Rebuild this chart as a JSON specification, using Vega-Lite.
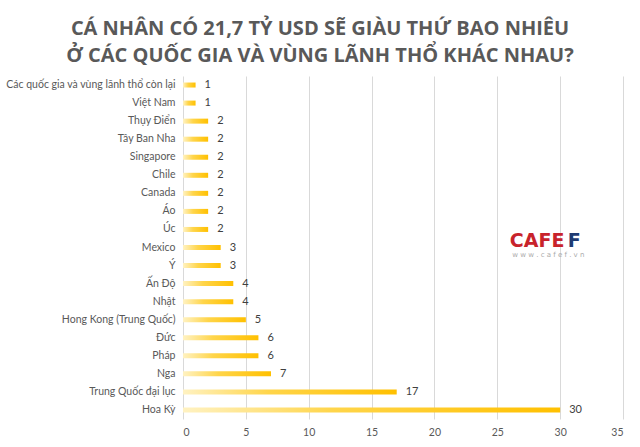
{
  "$schema": "https://vega.github.io/schema/vega-lite/v6.json",
  "autosize": "none",
  "width": 440,
  "height": 343,
  "padding": {"left": 183, "top": 76, "right": 17, "bottom": 28},
  "background": "white",
  "title": {
    "text": ["CÁ NHÂN CÓ 21,7 TỶ USD SẼ GIÀU THỨ BAO NHIÊU", "Ở CÁC QUỐC GIA VÀ VÙNG LÃNH THỔ KHÁC NHAU?"],
    "font": "Open Sans",
    "fontSize": 20,
    "fontWeight": "bold",
    "color": "#595959",
    "anchor": "middle",
    "dx": -83,
    "offset": 10,
    "lineHeight": 27
  },
  "config": {
    "view": {"stroke": null},
    "axis": {"labelFont": "Lato", "labelColor": "#595959", "labelFontSize": 10.5}
  },
  "datasets": {
    "main": [
      {"country": "Các quốc gia và vùng lãnh thổ còn lại", "rank": 1},
      {"country": "Việt Nam", "rank": 1},
      {"country": "Thụy Điển", "rank": 2},
      {"country": "Tây Ban Nha", "rank": 2},
      {"country": "Singapore", "rank": 2},
      {"country": "Chile", "rank": 2},
      {"country": "Canada", "rank": 2},
      {"country": "Áo", "rank": 2},
      {"country": "Úc", "rank": 2},
      {"country": "Mexico", "rank": 3},
      {"country": "Ý", "rank": 3},
      {"country": "Ấn Độ", "rank": 4},
      {"country": "Nhật", "rank": 4},
      {"country": "Hong Kong (Trung Quốc)", "rank": 5},
      {"country": "Đức", "rank": 6},
      {"country": "Pháp", "rank": 6},
      {"country": "Nga", "rank": 7},
      {"country": "Trung Quốc đại lục", "rank": 17},
      {"country": "Hoa Kỳ", "rank": 30}
    ],
    "logo": [
      {"country": "Mexico", "x": 26.0, "label": "CAFE", "part": "red"},
      {"country": "Mexico", "x": 30.6, "label": "F", "part": "blue"}
    ],
    "site": [
      {"country": "Mexico", "x": 26.2, "label": "w w w . c a f e f . v n"}
    ]
  },
  "layer": [
    {
      "data": {"name": "main"},
      "mark": {
        "type": "bar",
        "height": 5,
        "color": {
          "gradient": "linear",
          "x1": 0, "y1": 0, "x2": 1, "y2": 0,
          "stops": [
            {"offset": 0, "color": "#fff2c2"},
            {"offset": 0.4, "color": "#ffd54a"},
            {"offset": 1, "color": "#ffc000"}
          ]
        }
      },
      "encoding": {
        "y": {
          "field": "country", "type": "nominal", "sort": null,
          "axis": {"title": null, "ticks": false, "domain": false, "labelPadding": 8, "labelLimit": 200},
          "scale": {"paddingOuter": 0, "paddingInner": 0}
        },
        "x": {
          "field": "rank", "type": "quantitative",
          "scale": {"domain": [0, 35]},
          "axis": {"title": null, "values": [0, 5, 10, 15, 20, 25, 30, 35], "ticks": false, "domain": false, "grid": true, "gridColor": "#d9d9d9", "labelPadding": 8}
        }
      }
    },
    {
      "data": {"name": "main"},
      "mark": {"type": "text", "align": "left", "dx": 9, "font": "Lato", "fontSize": 11, "color": "#404040"},
      "encoding": {
        "y": {"field": "country", "type": "nominal", "sort": null},
        "x": {"field": "rank", "type": "quantitative"},
        "text": {"field": "rank"}
      }
    },
    {
      "data": {"name": "logo"},
      "mark": {"type": "text", "align": "left", "dy": -7, "font": "DejaVu Sans", "fontWeight": "bold", "fontSize": 19},
      "encoding": {
        "y": {"field": "country", "type": "nominal", "sort": null},
        "x": {"field": "x", "type": "quantitative"},
        "text": {"field": "label"},
        "color": {"field": "part", "type": "nominal", "scale": {"domain": ["red", "blue"], "range": ["#c8232c", "#1f3b73"]}, "legend": null}
      }
    },
    {
      "data": {"name": "site"},
      "mark": {"type": "text", "align": "left", "dy": 7, "font": "DejaVu Sans", "fontSize": 7, "color": "#aaaaaa"},
      "encoding": {
        "y": {"field": "country", "type": "nominal", "sort": null},
        "x": {"field": "x", "type": "quantitative"},
        "text": {"field": "label"}
      }
    }
  ]
}
